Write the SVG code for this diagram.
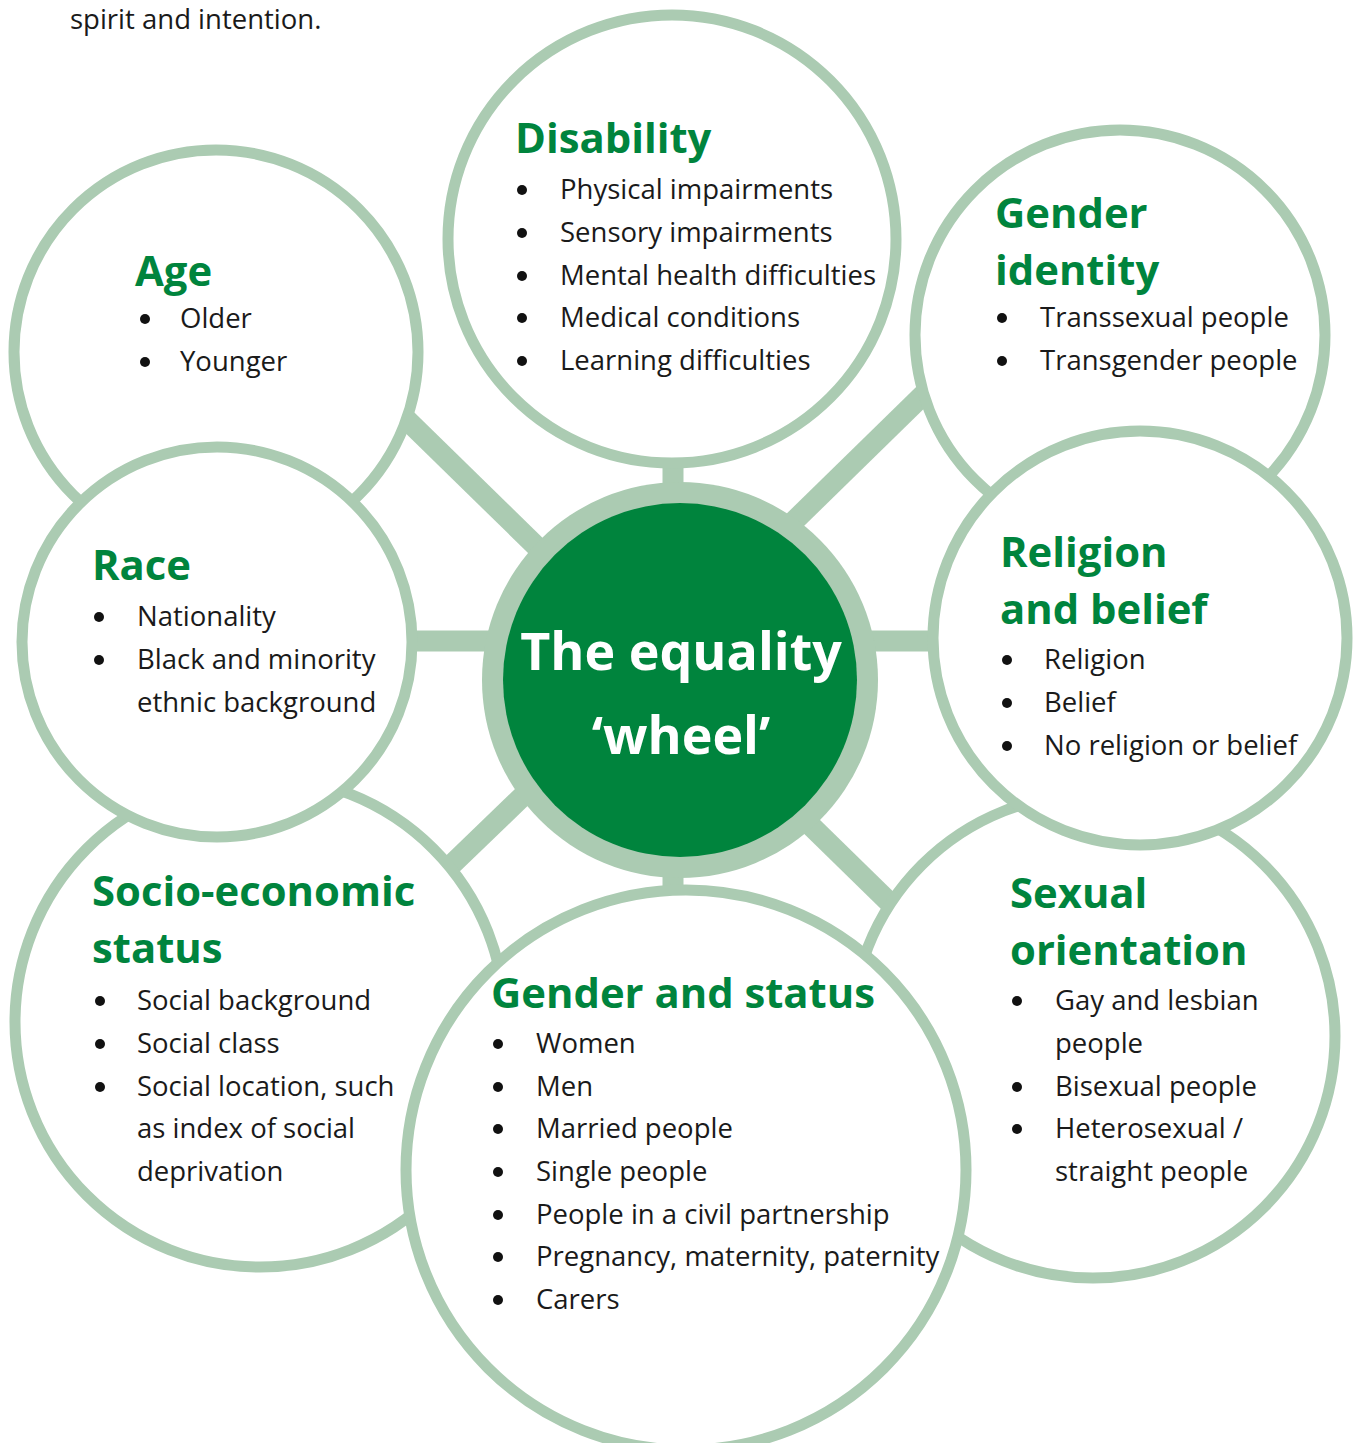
<svg xmlns="http://www.w3.org/2000/svg" width="1355" height="1443" viewBox="0 0 1355 1443">
  <style>
    .ring { fill: #ffffff; stroke: #abcbb2; stroke-width: 11; }
    .spoke { stroke: #abcbb2; stroke-width: 21; fill: none; }
    .title { font-family: "Open Sans", "Liberation Sans", sans-serif; font-weight: 700; font-size: 41.8px; fill: #00843d; }
    .item { font-family: "Open Sans", "Liberation Sans", sans-serif; font-size: 27.5px; fill: #1a1a1a; }
    .hub { font-family: "Open Sans", "Liberation Sans", sans-serif; font-weight: 700; font-size: 52px; fill: #ffffff; text-anchor: middle; }
    .dot { fill: #111111; }
  </style>
  <rect width="1355" height="1443" fill="#ffffff"/>

  <text class="item" x="70" y="29" fill="#222222">spirit and intention.</text>

  <!-- spokes joining the hub to each category -->
  <g id="connectors">
    <line class="spoke" x1="673" y1="455" x2="673" y2="495"/>
    <line class="spoke" x1="673" y1="865" x2="673" y2="905"/>
    <line class="spoke" x1="400" y1="641" x2="495" y2="641"/>
    <line class="spoke" x1="865" y1="641" x2="945" y2="641"/>
    <line class="spoke" x1="405" y1="418" x2="540" y2="550"/>
    <line class="spoke" x1="925" y1="393" x2="790" y2="525"/>
    <line class="spoke" x1="527" y1="792" x2="443" y2="873"/>
    <line class="spoke" x1="805" y1="820" x2="895" y2="908"/>
  </g>

  <!-- hub -->
  <g id="hub">
    <circle cx="680" cy="680" r="198" fill="#abcbb2"/>
    <circle cx="680" cy="680" r="177" fill="#00843d"/>
    <text class="hub" x="681" y="670">The equality</text>
    <text class="hub" x="681" y="754">‘wheel’</text>
  </g>

  <!-- Socio-economic status -->
  <g id="node-socio">
    <circle class="ring" cx="260" cy="1022" r="245"/>
    <text class="title" x="92" y="906">Socio-economic</text>
    <text class="title" x="92" y="963">status</text>
    <circle class="dot" cx="100" cy="1001" r="5"/>
    <circle class="dot" cx="100" cy="1044" r="5"/>
    <circle class="dot" cx="100" cy="1087" r="5"/>
    <text class="item" x="137" y="1010">Social background</text>
    <text class="item" x="137" y="1053">Social class</text>
    <text class="item" x="137" y="1096">Social location, such</text>
    <text class="item" x="137" y="1138">as index of social</text>
    <text class="item" x="137" y="1181">deprivation</text>
  </g>

  <!-- Sexual orientation -->
  <g id="node-sexual-orientation">
    <circle class="ring" cx="1093" cy="1036" r="242"/>
    <text class="title" x="1010" y="908">Sexual</text>
    <text class="title" x="1010" y="965">orientation</text>
    <circle class="dot" cx="1017" cy="1001" r="5"/>
    <circle class="dot" cx="1017" cy="1087" r="5"/>
    <circle class="dot" cx="1017" cy="1129" r="5"/>
    <text class="item" x="1055" y="1010">Gay and lesbian</text>
    <text class="item" x="1055" y="1053">people</text>
    <text class="item" x="1055" y="1096">Bisexual people</text>
    <text class="item" x="1055" y="1138">Heterosexual /</text>
    <text class="item" x="1055" y="1181">straight people</text>
  </g>

  <!-- Gender identity -->
  <g id="node-gender-identity">
    <circle class="ring" cx="1120" cy="335" r="205"/>
    <text class="title" x="995" y="228">Gender</text>
    <text class="title" x="995" y="285">identity</text>
    <circle class="dot" cx="1002" cy="318" r="5"/>
    <circle class="dot" cx="1002" cy="361" r="5"/>
    <text class="item" x="1040" y="327">Transsexual people</text>
    <text class="item" x="1040" y="370">Transgender people</text>
  </g>

  <!-- Age -->
  <g id="node-age">
    <circle class="ring" cx="216" cy="352" r="202"/>
    <text class="title" x="135" y="286">Age</text>
    <circle class="dot" cx="145" cy="319" r="5"/>
    <circle class="dot" cx="145" cy="362" r="5"/>
    <text class="item" x="180" y="328">Older</text>
    <text class="item" x="180" y="371">Younger</text>
  </g>

  <!-- Race -->
  <g id="node-race">
    <circle class="ring" cx="217" cy="642" r="195"/>
    <text class="title" x="92" y="580">Race</text>
    <circle class="dot" cx="99" cy="617" r="5"/>
    <circle class="dot" cx="99" cy="660" r="5"/>
    <text class="item" x="137" y="626">Nationality</text>
    <text class="item" x="137" y="669">Black and minority</text>
    <text class="item" x="137" y="712">ethnic background</text>
  </g>

  <!-- Gender and status -->
  <g id="node-gender-status">
    <circle class="ring" cx="686" cy="1170" r="280"/>
    <text class="title" x="491" y="1008">Gender and status</text>
    <circle class="dot" cx="498" cy="1044" r="5"/>
    <circle class="dot" cx="498" cy="1087" r="5"/>
    <circle class="dot" cx="498" cy="1129" r="5"/>
    <circle class="dot" cx="498" cy="1172" r="5"/>
    <circle class="dot" cx="498" cy="1215" r="5"/>
    <circle class="dot" cx="498" cy="1257" r="5"/>
    <circle class="dot" cx="498" cy="1300" r="5"/>
    <text class="item" x="536" y="1053">Women</text>
    <text class="item" x="536" y="1096">Men</text>
    <text class="item" x="536" y="1138">Married people</text>
    <text class="item" x="536" y="1181">Single people</text>
    <text class="item" x="536" y="1224">People in a civil partnership</text>
    <text class="item" x="536" y="1266">Pregnancy, maternity, paternity</text>
    <text class="item" x="536" y="1309">Carers</text>
  </g>

  <!-- Religion and belief -->
  <g id="node-religion">
    <circle class="ring" cx="1140" cy="638" r="207"/>
    <text class="title" x="1000" y="567">Religion</text>
    <text class="title" x="1000" y="624">and belief</text>
    <circle class="dot" cx="1007" cy="660" r="5"/>
    <circle class="dot" cx="1007" cy="703" r="5"/>
    <circle class="dot" cx="1007" cy="746" r="5"/>
    <text class="item" x="1044" y="669">Religion</text>
    <text class="item" x="1044" y="712">Belief</text>
    <text class="item" x="1044" y="755">No religion or belief</text>
  </g>

  <!-- Disability -->
  <g id="node-disability">
    <circle class="ring" cx="672" cy="239" r="224"/>
    <text class="title" x="515" y="153">Disability</text>
    <circle class="dot" cx="522" cy="190" r="5"/>
    <circle class="dot" cx="522" cy="233" r="5"/>
    <circle class="dot" cx="522" cy="276" r="5"/>
    <circle class="dot" cx="522" cy="318" r="5"/>
    <circle class="dot" cx="522" cy="361" r="5"/>
    <text class="item" x="560" y="199">Physical impairments</text>
    <text class="item" x="560" y="242">Sensory impairments</text>
    <text class="item" x="560" y="285">Mental health difficulties</text>
    <text class="item" x="560" y="327">Medical conditions</text>
    <text class="item" x="560" y="370">Learning difficulties</text>
  </g>
</svg>
